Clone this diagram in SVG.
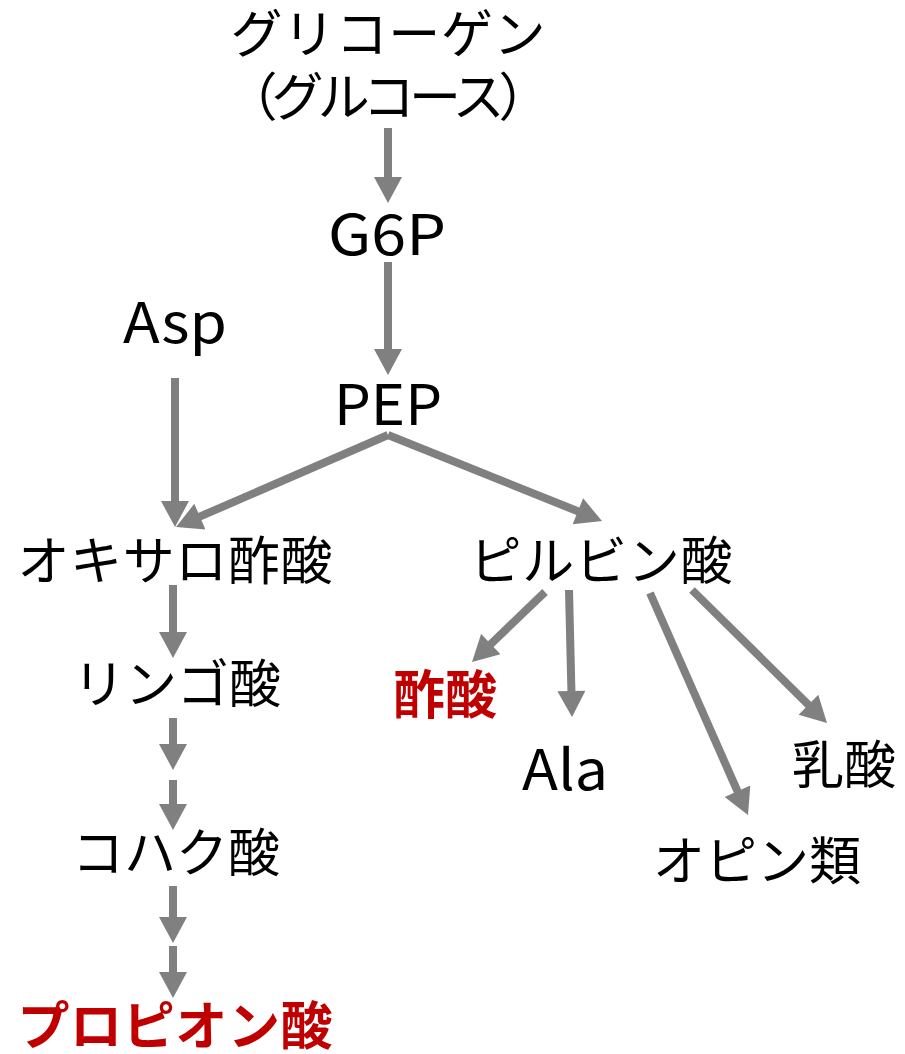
<svg xmlns="http://www.w3.org/2000/svg" width="905" height="1054" viewBox="0 0 905 1054">
<style>
text{font-family:"Noto Sans CJK JP","Noto Sans",sans-serif;font-size:52px;fill:#000;text-anchor:middle}
.lat{font-size:56px}
.red{fill:#c00000;font-weight:bold}
.arr{stroke:#808080;stroke-width:8;fill:none;marker-end:url(#ah)}
</style>
<defs>
<marker id="ah" markerUnits="userSpaceOnUse" markerWidth="28" markerHeight="28" refX="4" refY="14" orient="auto" viewBox="0 0 26 28">
<path d="M0,0 L26,14 L0,28 z" fill="#808080"/>
</marker>
</defs>
<rect width="905" height="1054" fill="#fff"/>
<g id="connectors">
<line class="arr" x1="388" y1="128" x2="388" y2="181"/>
<line class="arr" x1="388" y1="262" x2="388" y2="353"/>
<line class="arr" x1="175" y1="378" x2="175" y2="505"/>
<line class="arr" x1="388" y1="435" x2="196.2" y2="518.2"/>
<line class="arr" x1="388" y1="435" x2="581.6" y2="512.8"/>
<line class="arr" x1="173" y1="585" x2="173" y2="636"/>
<line class="arr" x1="173" y1="718" x2="173" y2="748"/>
<line class="arr" x1="173" y1="780" x2="173" y2="808"/>
<line class="arr" x1="173" y1="886" x2="173" y2="921"/>
<line class="arr" x1="173" y1="946" x2="173" y2="976"/>
<line class="arr" x1="545" y1="592" x2="487.9" y2="646.8"/>
<line class="arr" x1="569" y1="590" x2="571.5" y2="695"/>
<line class="arr" x1="650" y1="593" x2="739.1" y2="794.9"/>
<line class="arr" x1="692" y1="590" x2="811.3" y2="707.6"/>
</g>
<g id="glycogen"><text x="388" y="53" textLength="315" lengthAdjust="spacing">グリコーゲン</text><text x="388" y="116" textLength="325" lengthAdjust="spacing">（グルコース）</text></g>
<g id="g6p"><text class="lat" x="387" y="255" textLength="118" lengthAdjust="spacingAndGlyphs">G6P</text></g>
<g id="asp"><text class="lat" x="175" y="343" textLength="104" lengthAdjust="spacingAndGlyphs">Asp</text></g>
<g id="pep"><text class="lat" x="388" y="425" textLength="108" lengthAdjust="spacingAndGlyphs">PEP</text></g>
<g id="oxaloacetate"><text x="175" y="580" textLength="315" lengthAdjust="spacing">オキサロ酢酸</text></g>
<g id="pyruvate"><text x="601" y="580" textLength="263" lengthAdjust="spacing">ピルビン酸</text></g>
<g id="malate"><text x="177" y="703">リンゴ酸</text></g>
<g id="acetate"><text class="red" x="445" y="714">酢酸</text></g>
<g id="ala"><text class="lat" x="565" y="790" textLength="86" lengthAdjust="spacingAndGlyphs">Ala</text></g>
<g id="lactate"><text x="844" y="784">乳酸</text></g>
<g id="opines"><text x="757" y="880">オピン類</text></g>
<g id="succinate"><text x="176" y="872">コハク酸</text></g>
<g id="propionate"><text class="red" x="175" y="1045" textLength="315" lengthAdjust="spacing">プロピオン酸</text></g>
</svg>
